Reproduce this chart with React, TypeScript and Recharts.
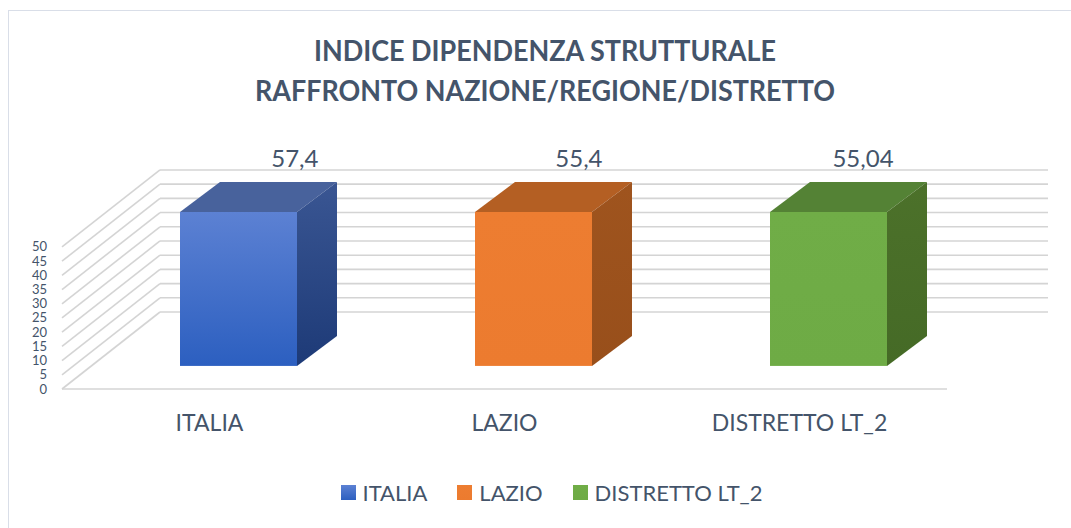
import React from 'react';
import { BarChart, Bar, XAxis, YAxis, CartesianGrid, LabelList, Legend } from 'recharts';

const CATEGORIES = ['ITALIA', 'LAZIO', 'DISTRETTO LT_2'];
const VALUES = [57.4, 55.4, 55.04];
const Y_TICKS = [0, 5, 10, 15, 20, 25, 30, 35, 40, 45, 50];
const Y_MAX = 50; // axis max: Excel clips the bars here

// face colours per bar: [top of gradient, bottom of gradient]
const FRONT = [['#5C81D3', '#2C5FC0'], ['#ED7D31', '#EC7B2F'], ['#70AD47', '#6EAB45']];
const TOP = ['#48629C', '#B45F23', '#548235'];
const SIDE = [['#3A5693', '#1D3A77'], ['#9F541E', '#984F1B'], ['#4C712A', '#456A26']];

const TEXT = '#44546A';
const GRID = '#D4D4D4';
const FONT = 'Lato, "Open Sans", sans-serif';

// fake 3D geometry
const WALL_DX = 98; // front axis -> back wall
const WALL_DY = 77;
const DEPTH_X = 40; // bar depth
const DEPTH_Y = 30;
const FACE_SHIFT = 29; // bar front face sits a bit behind the floor edge
const CENTER_X = 545;

const rows = CATEGORIES.map((name, i) => ({ name, value: VALUES[i] }));

const Box3D = (props: any) => {
  const { x, y, width, height, payload } = props;
  const i = props.index ?? CATEGORIES.indexOf(payload?.name);
  const fx = x + FACE_SHIFT;
  const r = fx + width;
  const b = y + height;
  return (
    <g>
      <defs>
        <linearGradient id={`front-${i}`} x1="0" y1="0" x2="0" y2="1">
          <stop offset="0" stopColor={FRONT[i][0]} />
          <stop offset="1" stopColor={FRONT[i][1]} />
        </linearGradient>
        <linearGradient id={`side-${i}`} x1="0" y1="0" x2="0" y2="1">
          <stop offset="0" stopColor={SIDE[i][0]} />
          <stop offset="1" stopColor={SIDE[i][1]} />
        </linearGradient>
      </defs>
      <polygon
        points={`${fx},${y} ${fx + DEPTH_X},${y - DEPTH_Y} ${r + DEPTH_X},${y - DEPTH_Y} ${r},${y}`}
        fill={TOP[i]}
      />
      <polygon
        points={`${r},${y} ${r + DEPTH_X},${y - DEPTH_Y} ${r + DEPTH_X},${b - DEPTH_Y} ${r},${b}`}
        fill={`url(#side-${i})`}
      />
      <rect x={fx} y={y} width={width} height={height} fill={`url(#front-${i})`} />
    </g>
  );
};

const renderValueLabel = (p: any) => {
  const { x, y, width, value } = p;
  const cx = x + FACE_SHIFT + width / 2;
  const lx = cx + 45 - 0.037 * (cx - CENTER_X);
  return (
    <text x={lx} y={y - 45} textAnchor="middle" fontFamily={FONT} fontSize={24} fill={TEXT}>
      {String(value).replace('.', ',')}
    </text>
  );
};

const renderGridLine = (p: any) => {
  const { x1, x2, y1, index } = p;
  // skip the plot's top edge, it is not a tick
  if (y1 < 214) return <g key={`grid-${index}`} />;
  const bx = x1 + WALL_DX;
  const by = y1 - WALL_DY;
  const isFloor = y1 > 387;
  return (
    <g key={`grid-${index}`}>
      <line x1={x1} y1={y1} x2={bx} y2={by} stroke={GRID} strokeWidth={1.6} />
      <line x1={bx} y1={by} x2={x2 + WALL_DX + 3} y2={by} stroke={GRID} strokeWidth={1.6} />
      {isFloor && <line x1={x1} y1={y1} x2={x2} y2={y1} stroke={GRID} strokeWidth={1.6} />}
    </g>
  );
};

const YTick = (p: any) => (
  <text x={47} y={p.y + 4.5} textAnchor="end" fontFamily={FONT} fontSize={13} fill={TEXT}>
    {p.payload.value}
  </text>
);

const XTick = (p: any) => (
  <text x={p.x} y={p.y + 42} textAnchor="middle" fontFamily={FONT} fontSize={23} fill={TEXT}>
    {p.payload.value}
  </text>
);

const renderLegend = () => (
  <div style={{ display: 'flex', justifyContent: 'center', gap: 30, fontFamily: FONT, fontSize: 22, color: TEXT }}>
    {CATEGORIES.map((c, i) => (
      <div key={c} style={{ display: 'flex', alignItems: 'center' }}>
        <span
          style={{
            display: 'inline-block',
            width: 15,
            height: 15,
            marginRight: 7,
            background: `linear-gradient(${FRONT[i][0]}, ${FRONT[i][1]})`,
          }}
        />
        {c}
      </div>
    ))}
  </div>
);

export default function App() {
  return (
    <div
      style={{
        position: 'absolute',
        left: 0,
        top: 0,
        width: 1071,
        height: 528,
        overflow: 'hidden',
        background: '#fff',
      }}
    >
      <div
        style={{
          position: 'absolute',
          left: 8,
          top: 10,
          width: 1120,
          height: 600,
          border: '1.5px solid #D9DEE8',
        }}
      />
      <BarChart
        width={1071}
        height={528}
        data={rows}
        margin={{ top: 212, right: 124, bottom: 99, left: 22 }}
        style={{ position: 'absolute', left: 0, top: 0 }}
      >
        <text x={545} y={61} textAnchor="middle" fontFamily={FONT} fontWeight={700} fontSize={28} fill={TEXT}
          textLength={462} lengthAdjust="spacingAndGlyphs">
          INDICE DIPENDENZA STRUTTURALE
        </text>
        <text x={545} y={101} textAnchor="middle" fontFamily={FONT} fontWeight={700} fontSize={28} fill={TEXT}
          textLength={580} lengthAdjust="spacingAndGlyphs">
          RAFFRONTO NAZIONE/REGIONE/DISTRETTO
        </text>
        <CartesianGrid yAxisId="tick" vertical={false} horizontal={renderGridLine} />
        <XAxis
          dataKey="name"
          axisLine={false}
          tickLine={false}
          tickSize={0}
          tickMargin={0}
          height={40}
          interval={0}
          tick={<XTick />}
        />
        {/* visible scale of the front edge */}
        <YAxis
          yAxisId="tick"
          type="number"
          domain={[0, 62.3]}
          allowDataOverflow
          ticks={Y_TICKS}
          width={40}
          axisLine={false}
          tickLine={false}
          tickSize={0}
          tickMargin={0}
          interval={0}
          tick={<YTick />}
        />
        {/* scale of the bars' front faces (sitting a bit deeper) */}
        <YAxis yAxisId="bar" type="number" domain={[-7.5, Y_MAX]} hide />
        <Bar
          yAxisId="bar"
          dataKey={(d: any) => Math.min(d.value, Y_MAX)}
          barSize={117}
          shape={<Box3D />}
          isAnimationActive={false}
        >
          <LabelList dataKey="value" content={renderValueLabel} />
        </Bar>
        <Legend
          layout="horizontal"
          verticalAlign="middle"
          align="center"
          content={renderLegend}
          wrapperStyle={{ top: 479, left: 16, width: 1071 }}
        />
      </BarChart>
    </div>
  );
}
